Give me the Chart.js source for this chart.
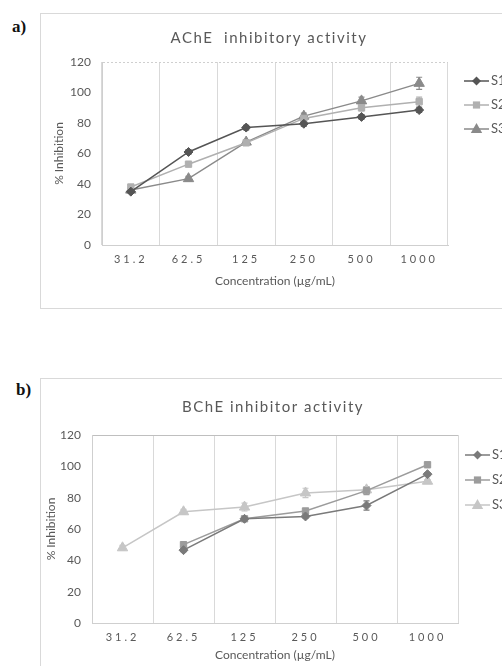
<!DOCTYPE html>
<html>
<head>
<meta charset="utf-8">
<script src="https://cdn.jsdelivr.net/npm/chart.js@4.4.0/dist/chart.umd.min.js"></script>
<style>
  body { margin: 0; width: 502px; height: 666px; overflow: hidden; background: #fff; position: relative; }
  .tag { position: absolute; font-family: "Liberation Serif", serif; font-weight: bold; font-size: 17px; color: #111; }
  .box { position: absolute; left: 40px; width: 480px; border: 1px solid #d9d9d9; background: #fff; }
  canvas { display: block; }
</style>
</head>
<body>
<div class="tag" style="left:12px; top:17px;">a)</div>
<div class="box" style="top:13px; height:294px;"><canvas id="chart-a" width="480" height="294"></canvas></div>
<div class="tag" style="left:16px; top:380px;">b)</div>
<div class="box" style="top:378px; height:300px;"><canvas id="chart-b" width="480" height="288"></canvas></div>

<script>
// ===== data =====
const concentrations = ["31.2", "62.5", "125", "250", "500", "1000"];
const seriesNames = ["S1", "S2", "S3"];

// a) AChE
const acheS1 = [35, 61, 77, 79.5, 84, 88.5];
const acheS2 = [38, 53, 67, 83, 90, 94];
const acheS3 = [36, 43.5, 67.5, 84.5, 94.5, 106];
const acheS1Err = [1, 1.5, 1.5, 1.5, 1.5, 1.5];
const acheS2Err = [1, 1, 1, 1.5, 2, 3];
const acheS3Err = [1, 1.5, 1.5, 2, 2.5, 4];

// b) BChE
const bcheS1 = [null, 46.5, 66.5, 68, 75, 95];
const bcheS2 = [null, 50, 66.5, 71.5, 84.5, 101];
const bcheS3 = [48, 71, 74, 83, 85, 90.5];
const bcheS1Err = [0, 1, 1, 1, 3, 1];
const bcheS2Err = [0, 1, 1, 1.5, 2.5, 1];
const bcheS3Err = [1.5, 1.5, 2.5, 3, 1.5, 1];

const yMin = 0, yMax = 120, yStep = 20;

const FONT = "Lato, 'Open Sans', sans-serif";
const TEXT = "#595959";
const GRID = "#d9d9d9";

function drawMarker(ctx, style, x, y, r, color) {
  ctx.save();
  ctx.fillStyle = color;
  ctx.beginPath();
  if (style === "rectRot") {
    ctx.moveTo(x, y - r); ctx.lineTo(x + r, y); ctx.lineTo(x, y + r); ctx.lineTo(x - r, y);
  } else if (style === "rect") {
    ctx.rect(x - r * 0.8, y - r * 0.8, r * 1.6, r * 1.6);
  } else {
    ctx.moveTo(x, y - r); ctx.lineTo(x + r * 0.95, y + r * 0.65); ctx.lineTo(x - r * 0.95, y + r * 0.65);
  }
  ctx.closePath();
  ctx.fill();
  ctx.restore();
}

// error bars drawn under the markers
const errorBars = {
  id: "errorBars",
  beforeDatasetsDraw(chart) {
    const ctx = chart.ctx;
    const yScale = chart.scales.y;
    chart.data.datasets.forEach((ds, i) => {
      const meta = chart.getDatasetMeta(i);
      ctx.save();
      ctx.strokeStyle = ds.borderColor;
      ctx.lineWidth = 1.2;
      meta.data.forEach((pt, j) => {
        const v = ds.data[j];
        const e = ds.errors[j];
        if (v == null || !e) return;
        const top = yScale.getPixelForValue(v + e);
        const bot = yScale.getPixelForValue(v - e);
        ctx.beginPath();
        ctx.moveTo(pt.x, top); ctx.lineTo(pt.x, bot);
        ctx.moveTo(pt.x - 3, top); ctx.lineTo(pt.x + 3, top);
        ctx.moveTo(pt.x - 3, bot); ctx.lineTo(pt.x + 3, bot);
        ctx.stroke();
      });
      ctx.restore();
    });
  }
};

// spaced lettering for the title and category labels
const spacing = {
  id: "spacing",
  afterLayout(chart) {
    const ctx = chart.ctx;
    const sx = chart.scales.x;
    if (!sx._spaced) {
      const orig = sx.drawLabels;
      sx.drawLabels = function (area) { ctx.letterSpacing = "3px"; orig.call(this, area); ctx.letterSpacing = "0px"; };
      sx._spaced = true;
    }
    const tb = chart.titleBlock;
    if (tb && !tb._spaced) {
      const origT = tb.draw;
      tb.draw = function () { ctx.letterSpacing = "1.5px"; origT.call(this); ctx.letterSpacing = "0px"; };
      tb._spaced = true;
    }
  }
};

function sideLegend(x, ys) {
  return {
    id: "sideLegend",
    afterDraw(chart) {
      const ctx = chart.ctx;
      chart.data.datasets.forEach((ds, i) => {
        const y = ys[i];
        ctx.save();
        ctx.strokeStyle = ds.borderColor;
        ctx.lineWidth = 1.5;
        ctx.beginPath(); ctx.moveTo(x, y); ctx.lineTo(x + 25, y); ctx.stroke();
        drawMarker(ctx, ds.pointStyle, x + 12.5, y, ds.pointRadius, ds.borderColor);
        ctx.fillStyle = TEXT;
        ctx.font = "13px " + FONT;
        ctx.textBaseline = "middle";
        ctx.fillText(ds.label, x + 27, y);
        ctx.restore();
      });
    }
  };
}

function makeDataset(label, data, errors, color, style, radius) {
  return {
    label: label, data: data, errors: errors,
    borderColor: color, backgroundColor: color,
    pointStyle: style, pointRadius: radius, pointHoverRadius: radius,
    pointBorderWidth: 1, borderWidth: 1.5, tension: 0, spanGaps: false
  };
}

function makeChart(id, cfg) {
  const ctx = document.getElementById(id).getContext("2d");
  return new Chart(ctx, {
    type: "line",
    data: { labels: concentrations, datasets: cfg.datasets },
    options: {
      responsive: false,
      animation: false,
      layout: { padding: { left: 0, top: 0, bottom: 0, right: cfg.rightPad } },
      plugins: {
        legend: { display: false },
        tooltip: { enabled: false },
        title: {
          display: true, text: cfg.title, color: TEXT,
          font: { family: FONT, size: 15, weight: "normal" },
          padding: { top: cfg.titlePad, bottom: cfg.titlePad }
        }
      },
      scales: {
        x: {
          offset: true,
          grid: { offset: true, color: GRID, drawTicks: false },
          border: { color: "#cfcfcf" },
          ticks: { color: TEXT, font: { family: FONT, size: 11 }, padding: cfg.xTickPad, maxRotation: 0 },
          title: { display: true, text: "Concentration (µg/mL)", color: TEXT, font: { family: FONT, size: 12 }, padding: { top: 0, bottom: cfg.xTitlePad } },
          afterFit(s) { s.height = cfg.xHeight; }
        },
        y: {
          min: yMin, max: yMax,
          grid: { color: c => c.tick.value === yMax ? cfg.topColor : "transparent", drawTicks: false },
          border: { color: "#cfcfcf", dash: cfg.topDash },
          ticks: { stepSize: yStep, color: TEXT, font: { family: FONT, size: 12 }, padding: 11 },
          title: { display: true, text: "% Inhibition", color: TEXT, font: { family: FONT, size: 12 }, padding: { top: cfg.yTitlePad, bottom: 0 } },
          afterFit(s) { s.width = cfg.yWidth; }
        },
        // empty right-hand axis: keeps room for the side legend
        yRight: {
          position: "right",
          min: yMin, max: yMax,
          grid: { display: false },
          border: { display: false },
          ticks: { display: false },
          afterFit(s) { s.width = cfg.legendRoom; }
        }
      }
    },
    plugins: [errorBars, spacing, sideLegend(cfg.legendX, cfg.legendYs)]
  });
}

makeChart("chart-a", {
  title: "AChE  inhibitory activity",
  datasets: [
    makeDataset(seriesNames[0], acheS1, acheS1Err, "#555555", "rectRot", 4.5),
    makeDataset(seriesNames[1], acheS2, acheS2Err, "#b0b0b0", "rect", 4.5),
    makeDataset(seriesNames[2], acheS3, acheS3Err, "#8a8a8a", "triangle", 6)
  ],
  rightPad: 24, legendRoom: 49, titlePad: 15, xTickPad: 8, xTitlePad: 20, xHeight: 63, yWidth: 61, yTitlePad: 11,
  topColor: "#cfcfcf", topDash: [2, 2],
  legendX: 423, legendYs: [67, 91, 115]
});

makeChart("chart-b", {
  title: "BChE inhibitor activity",
  datasets: [
    makeDataset(seriesNames[0], bcheS1, bcheS1Err, "#7a7a7a", "rectRot", 4.5),
    makeDataset(seriesNames[1], bcheS2, bcheS2Err, "#9c9c9c", "rect", 4.5),
    makeDataset(seriesNames[2], bcheS3, bcheS3Err, "#c6c6c6", "triangle", 6)
  ],
  rightPad: 16, legendRoom: 47, titlePad: 19, xTickPad: 8, xTitlePad: 5, xHeight: 44, yWidth: 51, yTitlePad: 3,
  topColor: "#bfbfbf", topDash: [],
  legendX: 424, legendYs: [76, 101, 126]
});
</script>
</body>
</html>
